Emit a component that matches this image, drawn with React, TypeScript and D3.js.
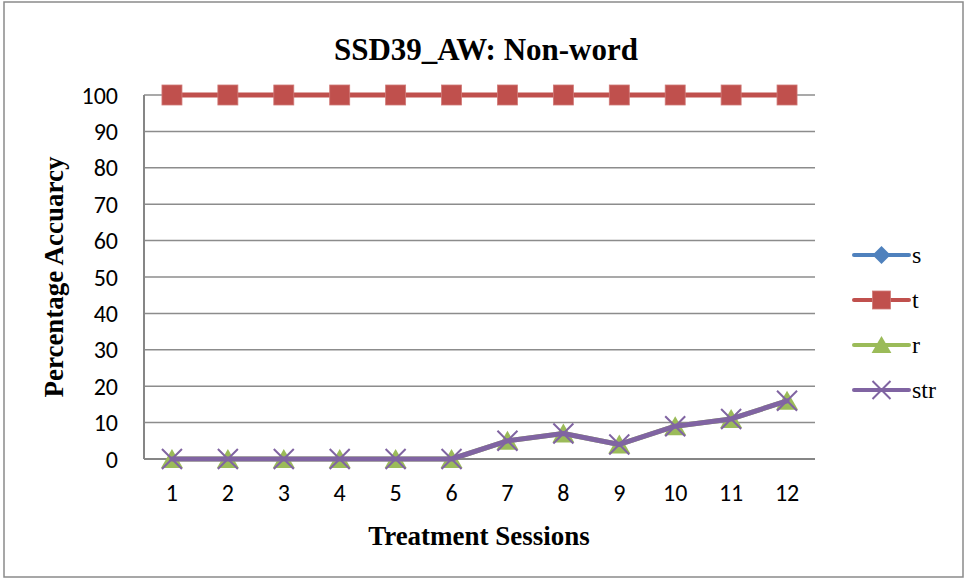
import { useEffect, useRef } from 'react';
import * as d3 from 'd3';

const sessions = [1, 2, 3, 4, 5, 6, 7, 8, 9, 10, 11, 12];
const sValues: (number | null)[] = [null, null, null, null, null, null, null, null, null, null, null, null];
const tValues = [100, 100, 100, 100, 100, 100, 100, 100, 100, 100, 100, 100];
const rValues = [0, 0, 0, 0, 0, 0, 5, 7, 4, 9, 11, 16];
const strValues = [0, 0, 0, 0, 0, 0, 5, 7, 4, 9, 11, 16];
const yTicks = [0, 10, 20, 30, 40, 50, 60, 70, 80, 90, 100];

const seriesNames = ['s', 't', 'r', 'str'];
const seriesColors = ['#4F81BD', '#C0504D', '#9BBB59', '#8064A2'];
const seriesMarkers = ['diamond', 'square', 'triangle', 'cross'];

const App = () => {
    const svgRef = useRef(null);
    const width = 969, height = 581;

    useEffect(() => {
        const svg = d3.select(svgRef.current);
        svg.selectAll('*').remove();

        const plot = { left: 144, right: 815, top: 95, bottom: 459 };
        const x = d3.scalePoint<number>().domain(sessions).range([plot.left, plot.right]).padding(0.5);
        const y = d3.scaleLinear().domain([0, 100]).range([plot.bottom, plot.top]);

        // outer border
        svg.append('rect')
            .attr('x', 4).attr('y', 2).attr('width', 959).attr('height', 575)
            .attr('fill', '#fff').attr('stroke', '#8a8a8a').attr('stroke-width', 1.5);

        // gridlines
        svg.append('g').selectAll('line').data(yTicks.filter(d => d > 0)).join('line')
            .attr('x1', plot.left).attr('x2', plot.right)
            .attr('y1', d => y(d)).attr('y2', d => y(d))
            .attr('stroke', '#8c8c8c').attr('stroke-width', 1.5);

        // axes
        svg.append('line').attr('x1', plot.left).attr('x2', plot.left)
            .attr('y1', plot.top).attr('y2', plot.bottom)
            .attr('stroke', '#868686').attr('stroke-width', 2);
        svg.append('line').attr('x1', plot.left).attr('x2', plot.right)
            .attr('y1', plot.bottom).attr('y2', plot.bottom)
            .attr('stroke', '#868686').attr('stroke-width', 2);

        const sans = "Calibri, Carlito, 'Liberation Sans', sans-serif";
        const serif = "'Liberation Serif', 'Times New Roman', serif";

        svg.append('g').selectAll('text').data(yTicks).join('text')
            .attr('x', 118).attr('y', d => y(d))
            .attr('text-anchor', 'end').attr('dominant-baseline', 'central')
            .style('font-family', sans).style('font-size', '24px').attr('fill', '#000')
            .text(d => d);

        svg.append('g').selectAll('text').data(sessions).join('text')
            .attr('x', d => x(d)!).attr('y', 501)
            .attr('text-anchor', 'middle')
            .style('font-family', sans).style('font-size', '24px').attr('fill', '#000')
            .text(d => d);

        // titles
        svg.append('text').attr('x', 486).attr('y', 60).attr('text-anchor', 'middle')
            .style('font-family', serif).style('font-size', '31px').style('font-weight', 'bold')
            .text('SSD39_AW: Non-word');
        svg.append('text').attr('x', 479).attr('y', 545).attr('text-anchor', 'middle')
            .style('font-family', serif).style('font-size', '27px').style('font-weight', 'bold')
            .text('Treatment Sessions');
        svg.append('text').attr('transform', 'translate(63,277) rotate(-90)').attr('text-anchor', 'middle')
            .style('font-family', serif).style('font-size', '27px').style('font-weight', 'bold')
            .text('Percentage Accuarcy');

        function drawMarker(g: any, kind: string, cx: number, cy: number, size: number, color: string) {
            const h = size / 2;
            if (kind === 'diamond') {
                g.append('path').attr('d', `M${cx},${cy - h}L${cx + h},${cy}L${cx},${cy + h}L${cx - h},${cy}Z`).attr('fill', color);
            } else if (kind === 'square') {
                g.append('rect').attr('x', cx - h).attr('y', cy - h).attr('width', size).attr('height', size)
                    .attr('fill', color).attr('stroke', '#d07a78').attr('stroke-width', 0.8);
            } else if (kind === 'triangle') {
                g.append('path').attr('d', `M${cx},${cy - h}L${cx + h * 1.1},${cy + h * 0.9}L${cx - h * 1.1},${cy + h * 0.9}Z`).attr('fill', color);
            } else {
                g.append('path').attr('d', `M${cx - h},${cy - h}L${cx + h},${cy + h}M${cx + h},${cy - h}L${cx - h},${cy + h}`)
                    .attr('stroke', color).attr('stroke-width', 2).attr('fill', 'none');
            }
        }

        const allSeries = [sValues, tValues, rValues, strValues];
        const line = d3.line<number | null>()
            .defined(d => d !== null)
            .x((_, i) => x(sessions[i])!)
            .y(d => y(d as number));

        allSeries.forEach((vals, si) => {
            const g = svg.append('g');
            g.append('path').datum(vals).attr('d', line)
                .attr('fill', 'none').attr('stroke', seriesColors[si]).attr('stroke-width', 5)
                .attr('stroke-linejoin', 'round').attr('stroke-linecap', 'round');
            vals.forEach((v, i) => {
                if (v === null) return;
                drawMarker(g, seriesMarkers[si], x(sessions[i])!, y(v), 20, seriesColors[si]);
            });
        });

        // legend
        const legendY = [255, 300, 345, 390];
        seriesNames.forEach((name, si) => {
            const g = svg.append('g');
            const ly = legendY[si];
            g.append('line').attr('x1', 854).attr('x2', 909).attr('y1', ly).attr('y2', ly)
                .attr('stroke', seriesColors[si]).attr('stroke-width', 4).attr('stroke-linecap', 'round');
            drawMarker(g, seriesMarkers[si], 881.5, ly, 18, seriesColors[si]);
            g.append('text').attr('x', 912).attr('y', ly + 8)
                .style('font-family', serif).style('font-size', '24px')
                .text(name);
        });
    }, []);

    return (
        <svg ref={svgRef} width={width} height={height} style={{ position: 'absolute', left: 0, top: 0 }} />
    );
};

export default App;
